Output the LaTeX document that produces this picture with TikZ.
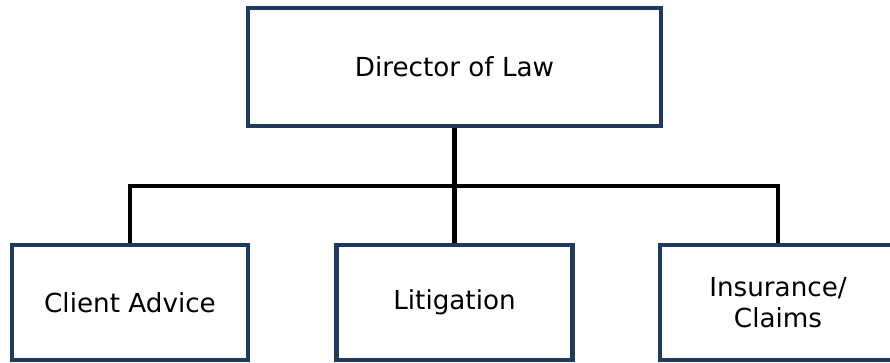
\documentclass[tikz,border=0pt]{standalone}
\usepackage{fontspec}
\setmainfont{DejaVu Sans}
\definecolor{boxnavy}{HTML}{1F3A5F}
\begin{document}
\begin{tikzpicture}[x=1pt,y=-1pt,
  orgbox/.style={draw=boxnavy, line width=4.5pt, fill=white, rectangle, inner sep=0pt,
    align=center, font=\fontsize{26.2}{31}\selectfont},
  link/.style={draw=black, line width=4.5pt}]
\useasboundingbox (0,0) rectangle (890,363);
\clip (0,0) rectangle (890,363);
\node[orgbox, minimum width=413pt, minimum height=118pt] (dir) at (454.5,67) {Director of Law};
\node[orgbox, minimum width=236pt, minimum height=115pt] (ca) at (130,302.5) {Client Advice};
\node[orgbox, minimum width=236pt, minimum height=115pt] (lit) at (454.5,302.5) {Litigation};
\node[orgbox, minimum width=236pt, minimum height=115pt] (ins) at (778,302.5) {Insurance/\\Claims};
\coordinate (bus) at (454.5,186);
\draw[link] (dir.south) -- (lit.north);
\draw[link] (ca.north) |- (bus) -| (ins.north);
\end{tikzpicture}
\end{document}
